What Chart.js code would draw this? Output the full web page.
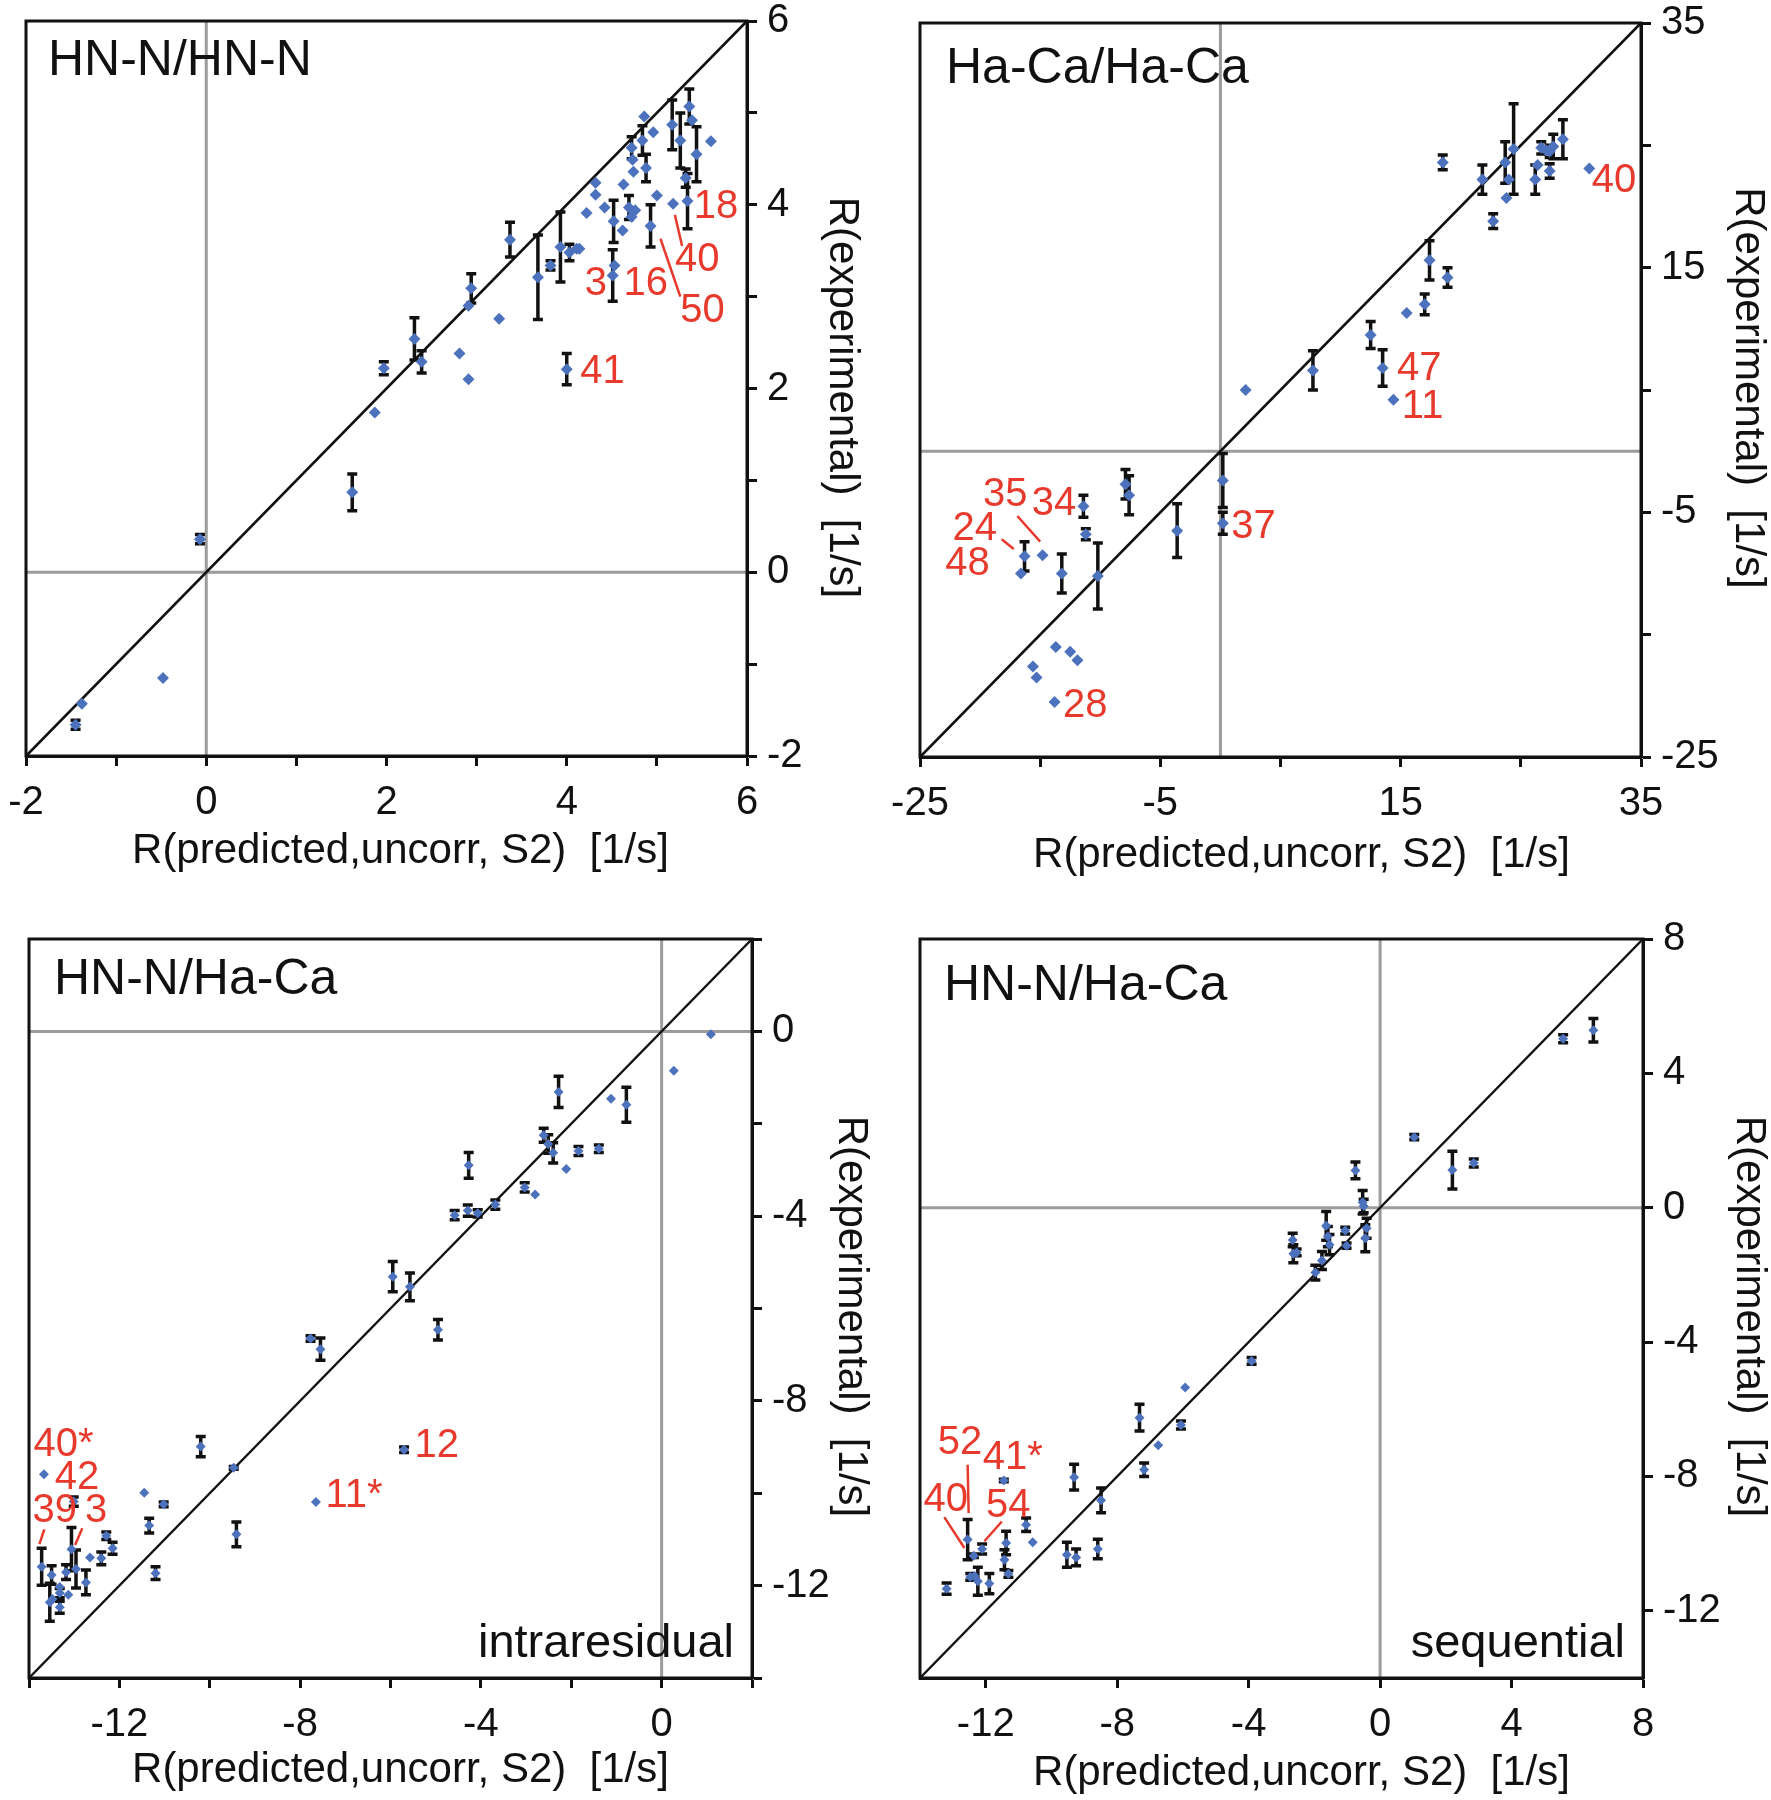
<!DOCTYPE html>
<html>
<head>
<meta charset="utf-8">
<script src="https://cdn.jsdelivr.net/npm/chart.js@4.4.1/dist/chart.umd.min.js"></script>
<style>
  html, body { margin: 0; background: #fff; }
  #page { position: relative; width: 1771px; height: 1800px; overflow: hidden; }
  canvas { position: absolute; }
</style>
</head>
<body>
<div id="page">
  <canvas id="p1" width="885" height="900" style="left:0;top:0"></canvas>
  <canvas id="p2" width="886" height="900" style="left:885px;top:0"></canvas>
  <canvas id="p3" width="885" height="900" style="left:0;top:900px"></canvas>
  <canvas id="p4" width="886" height="900" style="left:885px;top:900px"></canvas>
</div>
<script>
// Four predicted-vs-experimental scatter panels with error bars, y = x line,
// zero lines and red residue labels.

const FONT = '"Liberation Sans", Arial, sans-serif';
const BLUE = '#4d72bd';
const RED = '#e8392d';
const GREY = '#9c9c9c';
const INK = '#111';

const X_TITLE = 'R(predicted,uncorr, S2)  [1/s]';
const Y_TITLE = 'R(experimental)  [1/s]';

// --- HN-N/HN-N ---
const p1Range = [-2, 6];
const p1Ticks = [-2, -1, 0, 1, 2, 3, 4, 5, 6];
const p1TickLabels = [-2, 0, 2, 4, 6];
const p1X = [-1.45, -1.38, -0.48, -0.07, 1.62, 1.87, 1.97, 2.31, 2.39, 2.81, 2.91, 2.91, 2.94, 3.25, 3.37, 3.68,
  3.82, 3.93, 4.0, 4.03, 4.11, 4.14, 4.22, 4.32, 4.32, 4.42, 4.52, 4.51, 4.53, 4.62, 4.63, 4.69, 4.72, 4.76,
  4.72, 4.73, 4.74, 4.84, 4.86, 4.88, 4.96, 5.0, 4.93, 5.17, 5.18, 5.26, 5.32, 5.34, 5.36, 5.39, 5.44, 5.6];
const p1Y = [-1.66, -1.43, -1.15, 0.36, 0.87, 1.74, 2.22, 2.54, 2.29, 2.38, 2.10, 2.90, 3.09, 2.76, 3.62, 3.21,
  3.34, 3.54, 2.21, 3.48, 3.52, 3.52, 3.91, 4.24, 4.11, 3.97, 3.82, 3.23, 3.34, 3.72, 4.22, 3.97, 3.87, 3.94,
  4.62, 4.49, 4.36, 4.70, 4.96, 4.40, 4.79, 4.10, 3.77, 4.87, 4.01, 4.70, 4.29, 4.04, 5.07, 4.92, 4.55, 4.69];
const p1Err = [0.05, 0, 0, 0.05, 0.2, 0, 0.07, 0.23, 0.12, 0, 0, 0, 0.16, 0, 0.19, 0.46,
  0.05, 0.38, 0.17, 0.09, 0, 0, 0, 0, 0, 0, 0.23, 0.28, 0, 0, 0, 0.13, 0, 0,
  0.12, 0, 0, 0.16, 0, 0.15, 0, 0, 0.23, 0.27, 0, 0.3, 0.1, 0.3, 0.19, 0, 0.3, 0];
const p1Notes = [['18', 5.41, 3.98], ['40', 5.2, 3.4], ['3', 4.2, 3.14], ['16', 4.63, 3.14], ['50', 5.26, 2.84], ['41', 4.15, 2.18]];
const p1Leaders = [[5.2, 3.89, 5.28, 3.55], [5.04, 3.63, 5.26, 3.0]];

// --- Ha-Ca/Ha-Ca ---
const p2Range = [-25, 35];
const p2Ticks = [-25, -15, -5, 5, 15, 25, 35];
const p2TickLabels = [-25, -5, 15, 35];
const p2X = [2.1, 7.7, 12.5, 13.5, 14.4, 15.5, 17.0, 17.4, 18.9, 18.5, 21.8, 22.7, 23.7, 24.0, 23.8, 24.4,
  26.2, 26.4, 26.7, 27.1, 27.4, 27.4, 27.7, 28.5, 30.7, -16.3, -16.6, -14.8, -13.2, -11.4, -11.2, -10.2,
  -7.9, -7.6, -3.6, 0.2, 0.2, -15.6, -15.3, -13.7, -12.5, -11.9, -13.8];
const p2Y = [5.0, 6.6, 9.5, 6.8, 4.2, 11.3, 12.0, 15.6, 14.2, 23.6, 22.2, 18.8, 23.6, 22.2, 20.7, 24.7,
  22.2, 23.4, 24.8, 24.6, 24.5, 22.9, 24.9, 25.5, 23.1, -8.6, -10.0, -8.5, -10.0, -4.5, -6.8, -10.2,
  -2.7, -3.6, -6.5, -2.4, -5.9, -17.6, -18.5, -16.0, -16.4, -17.1, -20.5];
const p2Err = [0, 1.6, 1.1, 1.5, 0, 0, 0.85, 1.6, 0.8, 0.6, 1.2, 0.6, 1.7, 0, 0, 3.7,
  1.2, 0, 0.5, 0, 0.5, 0.6, 1.0, 1.6, 0, 1.2, 0, 0, 1.6, 0.9, 0.45, 2.7,
  1.2, 1.6, 2.2, 2.2, 0.9, 0, 0, 0, 0, 0, 0];
const p2Notes = [['40', 30.9, 22.1], ['47', 14.7, 6.7], ['11', 15.1, 3.6], ['37', 0.9, -6.2], ['28', -13.1, -20.85],
  ['48', -22.9, -9.2], ['24', -22.3, -6.4], ['35', -19.75, -3.55], ['34', -15.7, -4.3]];
const p2Leaders = [[-18.2, -7.2, -17.2, -8.0], [-16.9, -5.3, -15.0, -7.4]];

// --- HN-N/Ha-Ca intraresidual ---
const p3Range = [-14, 2];
const p3Ticks = [-14, -12, -10, -8, -6, -4, -2, 0, 2];
const p3TickLabels = [-12, -8, -4, 0];
const p3X = [1.09, 0.27, -0.78, -1.12, -2.28, -2.61, -2.51, -2.40, -2.11, -1.84, -1.39, -3.03, -2.80, -3.68,
  -4.07, -4.29, -4.58, -4.27, -5.95, -5.57, -4.95, -7.77, -7.55, -5.70, -7.65, -10.20, -9.47, -9.41, -11.45,
  -11.02, -11.34, -11.20, -13.67, -13.01, -13.06, -12.96, -12.65, -12.29, -12.15, -12.40, -12.74, -13.72,
  -13.50, -13.18, -13.32, -13.13, -13.32, -13.48, -13.54, -13.32];
const p3Y = [-0.06, -0.85, -1.59, -1.46, -1.31, -2.25, -2.44, -2.63, -2.98, -2.59, -2.54, -3.38, -3.53, -3.75,
  -3.94, -3.88, -3.98, -2.90, -5.31, -5.53, -6.46, -6.65, -6.88, -9.06, -10.19, -8.99, -9.45, -10.89, -9.99,
  -10.24, -10.70, -11.73, -9.59, -10.18, -11.21, -11.64, -11.39, -10.92, -11.19, -11.41, -11.93, -11.59,
  -11.77, -11.71, -12.03, -12.20, -12.16, -12.29, -12.36, -12.47];
const p3Err = [0, 0, 0.38, 0, 0.34, 0.15, 0.2, 0.22, 0, 0.1, 0.08, 0.1, 0, 0.1,
  0.08, 0.12, 0.1, 0.28, 0.33, 0.3, 0.22, 0.06, 0.24, 0.06, 0, 0.22, 0.03, 0.27, 0,
  0.05, 0.16, 0.14, 0, 0.1, 0.47, 0.41, 0, 0.08, 0.13, 0.14, 0.27, 0.4,
  0.2, 0.16, 0, 0, 0.1, 0, 0.41, 0.13];
const p3Notes = [['40*', -13.9, -8.96], ['42', -13.43, -9.66], ['39', -13.92, -10.38], ['3', -12.76, -10.38],
  ['12', -5.47, -8.98], ['11*', -7.44, -10.06]];
const p3Leaders = [[-13.77, -11.1, -13.66, -10.78], [-12.98, -11.12, -12.82, -10.76]];

// --- HN-N/Ha-Ca sequential ---
const p4Range = [-14, 8];
const p4Ticks = [-12, -8, -4, 0, 4, 8];
const p4TickLabels = [-12, -8, -4, 0, 4, 8];
const p4X = [6.49, 5.57, 1.04, 2.20, 2.85, -0.75, -0.53, -0.50, -0.41, -0.45, -1.64, -1.59, -1.54, -1.06, -1.02,
  -2.66, -2.64, -2.54, -1.77, -1.97, -3.91, -5.93, -6.06, -6.75, -7.32, -7.18, -9.31, -8.49, -11.45, -10.77,
  -10.57, -9.53, -9.25, -8.59, -11.38, -11.43, -11.31, -11.89, -12.24, -12.34, -12.47, -12.55, -12.36, -12.11, -13.19];
const p4Y = [5.28, 5.03, 2.10, 1.12, 1.33, 1.11, 0.16, 0.05, -0.61, -0.91, -0.54, -0.86, -1.10, -0.68, -1.13,
  -0.96, -1.37, -1.33, -1.57, -1.93, -4.56, -5.35, -6.47, -7.07, -6.25, -7.80, -8.02, -8.71, -8.12, -9.44,
  -9.96, -10.33, -10.41, -10.16, -9.98, -10.48, -10.90, -11.19, -11.12, -10.96, -10.99, -9.88, -10.36, -10.16, -11.34];
const p4Err = [0.35, 0.12, 0.08, 0.56, 0.12, 0.25, 0.35, 0.2, 0.3, 0.4, 0.43, 0.3, 0.3, 0.1, 0.08,
  0.2, 0.27, 0.1, 0.27, 0.22, 0.1, 0, 0.12, 0, 0.4, 0.2, 0.38, 0.37, 0.04, 0.2,
  0, 0.37, 0.25, 0.29, 0.35, 0.3, 0.1, 0.3, 0.42, 0, 0.1, 0.6, 0.05, 0.15, 0.17];
const p4Notes = [['52', -13.46, -7.01], ['41*', -12.09, -7.45], ['40', -13.89, -8.69], ['54', -11.99, -8.89]];
const p4Leaders = [[-12.55, -7.65, -12.52, -9.09], [-13.26, -9.21, -12.65, -10.13], [-11.51, -9.34, -12.04, -9.93]];

// layout per panel: area = [left, top, right, bottom] inside its canvas
const PANELS = [
  { id: 'p1', title: 'HN-N/HN-N', note: '', x: p1X, y: p1Y, err: p1Err, range: p1Range, ticks: p1Ticks,
    tickLabels: p1TickLabels, notes: p1Notes, leaders: p1Leaders, r: 6,
    area: [26, 21, 747, 756], titlePos: [22, 40], xTitle: [14, 95], yTitle: [95, 9] },
  { id: 'p2', title: 'Ha-Ca/Ha-Ca', note: '', x: p2X, y: p2Y, err: p2Err, range: p2Range, ticks: p2Ticks,
    tickLabels: p2TickLabels, notes: p2Notes, leaders: p2Leaders, r: 6,
    area: [35, 23, 756, 757], titlePos: [26, 46], xTitle: [21, 98], yTitle: [107, -2] },
  { id: 'p3', title: 'HN-N/Ha-Ca', note: 'intraresidual', x: p3X, y: p3Y, err: p3Err, range: p3Range, ticks: p3Ticks,
    tickLabels: p3TickLabels, notes: p3Notes, leaders: p3Leaders, r: 5,
    area: [29, 39, 752, 778], titlePos: [25, 41], xTitle: [10, 92], yTitle: [99, 8] },
  { id: 'p4', title: 'HN-N/Ha-Ca', note: 'sequential', x: p4X, y: p4Y, err: p4Err, range: p4Range, ticks: p4Ticks,
    tickLabels: p4TickLabels, notes: p4Notes, leaders: p4Leaders, r: 5,
    area: [35, 39, 758, 778], titlePos: [24, 47], xTitle: [20, 95], yTitle: [106, 8] },
];

function axis(kind, p, size) {
  return {
    type: 'linear',
    position: kind === 'x' ? 'bottom' : 'right',
    min: p.range[0],
    max: p.range[1],
    afterBuildTicks: (s) => { s.ticks = p.ticks.map((v) => ({ value: v })); },
    afterFit: (s) => {
      if (kind === 'x') { s.height = size; s.paddingLeft = 0; s.paddingRight = 0; }
      else { s.width = size; s.paddingTop = 0; s.paddingBottom = 0; }
    },
    ticks: {
      autoSkip: false, maxRotation: 0, minRotation: 0, padding: kind === 'x' ? 13 : 10, color: INK,
      font: { family: FONT, size: 40 },
      callback: (v) => (p.tickLabels.includes(v) ? String(v) : ''),
    },
    grid: { drawOnChartArea: false, tickLength: 10, tickWidth: 3, tickColor: INK, color: INK },
    border: { display: true, color: INK, width: 3 },
  };
}

// zero lines, y = x, error bars underneath; labels, frame and titles on top
function decor(p) {
  return {
    id: 'decor',
    beforeDatasetsDraw(chart) {
      const { ctx, chartArea: a, scales: { x, y } } = chart;
      ctx.save();
      ctx.strokeStyle = GREY;
      ctx.lineWidth = 3;
      ctx.beginPath();
      const x0 = x.getPixelForValue(0);
      const y0 = y.getPixelForValue(0);
      ctx.moveTo(x0, a.top); ctx.lineTo(x0, a.bottom);
      ctx.moveTo(a.left, y0); ctx.lineTo(a.right, y0);
      ctx.stroke();

      ctx.strokeStyle = INK;
      ctx.lineWidth = 2.5;
      ctx.beginPath();
      ctx.moveTo(x.getPixelForValue(p.range[0]), y.getPixelForValue(p.range[0]));
      ctx.lineTo(x.getPixelForValue(p.range[1]), y.getPixelForValue(p.range[1]));
      ctx.stroke();

      ctx.lineWidth = 3.5;
      ctx.beginPath();
      p.err.forEach((e, i) => {
        if (!e) return;
        const px = x.getPixelForValue(p.x[i]);
        const hi = y.getPixelForValue(p.y[i] + e);
        const lo = y.getPixelForValue(p.y[i] - e);
        ctx.moveTo(px, hi); ctx.lineTo(px, lo);
        ctx.moveTo(px - 5, hi); ctx.lineTo(px + 5, hi);
        ctx.moveTo(px - 5, lo); ctx.lineTo(px + 5, lo);
      });
      ctx.stroke();
      ctx.restore();
    },
    afterDatasetsDraw(chart) {
      const { ctx, chartArea: a, scales: { x, y } } = chart;
      ctx.save();
      ctx.strokeStyle = RED;
      ctx.lineWidth = 2.5;
      ctx.beginPath();
      for (const [x1, y1, x2, y2] of p.leaders) {
        ctx.moveTo(x.getPixelForValue(x1), y.getPixelForValue(y1));
        ctx.lineTo(x.getPixelForValue(x2), y.getPixelForValue(y2));
      }
      ctx.stroke();
      ctx.fillStyle = RED;
      ctx.font = `40px ${FONT}`;
      ctx.textAlign = 'left';
      ctx.textBaseline = 'middle';
      for (const [t, vx, vy] of p.notes) ctx.fillText(t, x.getPixelForValue(vx), y.getPixelForValue(vy));

      ctx.strokeStyle = INK;
      ctx.lineWidth = 3;
      ctx.strokeRect(a.left, a.top, a.right - a.left, a.bottom - a.top);

      ctx.fillStyle = INK;
      ctx.font = `50px ${FONT}`;
      ctx.fillText(p.title, a.left + p.titlePos[0], a.top + p.titlePos[1]);
      if (p.note) {
        ctx.font = `47px ${FONT}`;
        ctx.textAlign = 'right';
        ctx.textBaseline = 'alphabetic';
        ctx.fillText(p.note, a.right - 18, a.bottom - 21);
      }

      ctx.font = `42px ${FONT}`;
      ctx.textAlign = 'center';
      ctx.textBaseline = 'middle';
      ctx.fillText(X_TITLE, (a.left + a.right) / 2 + p.xTitle[0], a.bottom + p.xTitle[1]);
      ctx.translate(a.right + p.yTitle[0], (a.top + a.bottom) / 2 + p.yTitle[1]);
      ctx.rotate(Math.PI / 2);
      ctx.fillText(Y_TITLE, 0, 0);
      ctx.restore();
    },
  };
}

for (const p of PANELS) {
  const canvas = document.getElementById(p.id);
  new Chart(canvas, {
    type: 'scatter',
    data: {
      datasets: [{
        data: p.x.map((v, i) => ({ x: v, y: p.y[i] })),
        pointStyle: 'rectRot',
        pointRadius: p.r,
        pointHoverRadius: p.r,
        backgroundColor: BLUE,
        borderWidth: 0,
      }],
    },
    options: {
      responsive: false,
      animation: false,
      events: [],
      layout: { padding: { left: p.area[0], top: p.area[1], right: 0, bottom: 0 } },
      plugins: { legend: { display: false }, tooltip: { enabled: false } },
      scales: {
        x: axis('x', p, canvas.height - p.area[3]),
        y: axis('y', p, canvas.width - p.area[2]),
      },
    },
    plugins: [decor(p)],
  });
}
</script>
</body>
</html>
